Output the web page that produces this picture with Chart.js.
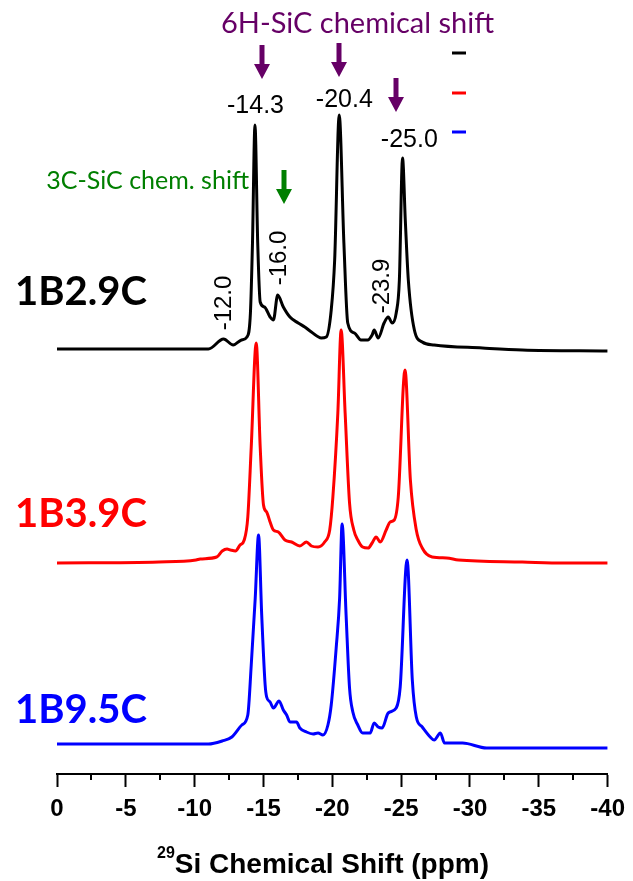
<!DOCTYPE html>
<html>
<head>
<meta charset="utf-8">
<title>29Si NMR spectra</title>
<script src="https://cdn.jsdelivr.net/npm/chart.js@4/dist/chart.umd.min.js"></script>
<style>
  html, body { margin: 0; padding: 0; background: #fff; }
  #wrap { width: 633px; height: 881px; }
</style>
</head>
<body>
<div id="wrap"><canvas id="nmrChart" width="633" height="881"></canvas></div>
<script>
// ================= DATA =================
// chemical shift (ppm) and intensity above each trace's own baseline
const blackShift = [0, -7.4, -11.0, -12.1, -12.8, -13.4, -13.8, -14.05, -14.2, -14.38, -14.58, -14.76, -15.07, -15.48, -15.72, -16.03, -16.44, -16.92, -17.52, -18.0, -18.48, -19.2, -19.56, -19.92, -20.17, -20.5, -20.84, -21.12, -21.61, -22.08, -22.57, -22.89, -23.04, -23.33, -23.76, -24.06, -24.35, -24.64, -24.87, -25.1, -25.3, -25.52, -25.96, -26.53, -27.4, -30.9, -33.8, -40];
const blackInt = [0, 0, 0, 10, 4, 9, 12, 36, 106, 224, 106, 47, 42, 32, 29, 54, 42, 32, 26, 22, 17, 11, 12, 39, 89, 234, 106, 26, 16, 9, 9, 14, 19, 11, 26, 32, 26, 36, 69, 191, 129, 69, 19, 7, 4, 1, -1, -2];

const redShift = [0, -7.4, -10.1, -10.4, -11.6, -12.0, -12.35, -12.6, -12.96, -13.3, -13.6, -13.86, -14.11, -14.47, -14.76, -15.0, -15.23, -15.48, -15.72, -16.08, -16.56, -17.04, -17.64, -18.12, -18.48, -18.96, -19.44, -19.81, -20.04, -20.4, -20.64, -20.93, -21.25, -21.56, -21.85, -22.2, -22.6, -22.89, -23.18, -23.48, -23.91, -24.2, -24.5, -24.79, -25.28, -25.67, -26.1, -26.53, -27.25, -28.3, -29.16, -33.8, -36.8, -40];
const redInt = [-1, 0, 2, 3, 5, 11, 13, 12, 11, 17, 22, 45, 115, 219, 115, 57, 50, 40, 32, 30, 22, 20, 16, 20, 16, 15, 20, 32, 65, 149, 232, 149, 59, 32, 22, 15, 14, 19, 25, 20, 32, 40, 42, 65, 192, 82, 32, 14, 5, 4, 2, 0, -1, -1];

const blueShift = [0, -7.4, -11.0, -12.0, -12.7, -13.43, -13.86, -14.11, -14.4, -14.64, -14.87, -15.12, -15.23, -15.48, -15.72, -16.13, -16.44, -16.68, -16.92, -17.4, -17.64, -18.12, -18.6, -18.96, -19.32, -19.68, -19.92, -20.28, -20.53, -20.71, -21.0, -21.25, -21.49, -21.85, -22.2, -22.75, -23.04, -23.33, -23.62, -24.06, -24.64, -24.93, -25.43, -25.81, -26.1, -26.53, -27.11, -27.4, -27.85, -28.15, -29.46, -31.2, -33.8, -40];
const blueInt = [0, 0, 0, 3, 7, 19, 29, 79, 146, 209, 129, 59, 47, 42, 36, 43, 34, 29, 22, 22, 16, 12, 10, 11, 9, 19, 39, 96, 146, 220, 129, 56, 32, 19, 11, 11, 21, 17, 16, 31, 36, 57, 184, 64, 27, 17, 7, 4, 11, 1, 1, -4, -4, -4];

const sampleNames = ["1B2.9C", "1B3.9C", "1B9.5C"];
const tickValues = [0, -5, -10, -15, -20, -25, -30, -35, -40];
const peakLabels6H = ["-14.3", "-20.4", "-25.0"];
const minorLabels = ["-12.0", "-16.0", "-23.9"];

// ================= LAYOUT / STYLE =================
const colors = ["#000000", "#ff0000", "#0000ff"];
const offsets = [425, 212, 30];   // vertical stacking of the traces
const purple = "#660066";
const green = "#007f00";

function makeSeries(shift, inten, off) {
  return shift.map((s, i) => ({ x: s, y: inten[i] + off }));
}

// ================= ANNOTATIONS =================
function arrow(ctx, x, y1, y2, color) {
  const head = 15, half = 8;
  ctx.save();
  ctx.strokeStyle = color;
  ctx.fillStyle = color;
  ctx.lineWidth = 5;
  ctx.beginPath();
  ctx.moveTo(x, y1);
  ctx.lineTo(x, y2 - head + 1);
  ctx.stroke();
  ctx.beginPath();
  ctx.moveTo(x - half, y2 - head);
  ctx.lineTo(x + half, y2 - head);
  ctx.lineTo(x, y2);
  ctx.closePath();
  ctx.fill();
  ctx.restore();
}

const annotations = {
  id: "annotations",
  afterDraw(chart) {
    const ctx = chart.ctx;
    const xs = chart.scales.x;
    const axisY = chart.chartArea.bottom;

    // minor ticks
    ctx.save();
    ctx.strokeStyle = "#000";
    ctx.lineWidth = 2;
    for (let v = -2.5; v > -40; v -= 5) {
      const px = Math.round(xs.getPixelForValue(v));
      ctx.beginPath();
      ctx.moveTo(px, axisY);
      ctx.lineTo(px, axisY + 6);
      ctx.stroke();
    }
    ctx.restore();

    // axis title with superscript
    ctx.save();
    ctx.fillStyle = "#000";
    ctx.textBaseline = "alphabetic";
    ctx.textAlign = "left";
    ctx.font = "bold 16px 'Liberation Sans', Arial";
    ctx.fillText("29", 157, 858);
    const supW = ctx.measureText("29").width;
    ctx.font = "bold 28px 'Liberation Sans', Arial";
    ctx.fillText("Si Chemical Shift (ppm)", 157 + supW, 873);
    ctx.restore();

    // sample names
    ctx.save();
    ctx.font = "bold 40px Lato";
    ctx.textAlign = "left";
    const nameY = [305, 527, 723];
    sampleNames.forEach((n, i) => {
      ctx.fillStyle = colors[i];
      ctx.fillText(n, 15, nameY[i]);
    });
    ctx.restore();

    // legend dashes
    ctx.save();
    ctx.lineWidth = 3;
    [53, 93, 132].forEach((y, i) => {
      ctx.strokeStyle = colors[i];
      ctx.beginPath();
      ctx.moveTo(452, y);
      ctx.lineTo(466, y);
      ctx.stroke();
    });
    ctx.restore();

    // 6H-SiC
    ctx.save();
    ctx.fillStyle = purple;
    ctx.font = "29px Lato";
    ctx.textAlign = "left";
    ctx.fillText("6H-SiC chemical shift", 221, 33);
    ctx.restore();
    arrow(ctx, 262, 45, 79, purple);
    arrow(ctx, 339, 43, 77, purple);
    arrow(ctx, 396, 78, 112, purple);

    ctx.save();
    ctx.fillStyle = "#000";
    ctx.font = "25px 'Liberation Sans', Arial";
    ctx.textAlign = "center";
    ctx.fillText(peakLabels6H[0], 255.5, 113);
    ctx.fillText(peakLabels6H[1], 344.3, 107);
    ctx.fillText(peakLabels6H[2], 409.3, 147);
    ctx.restore();

    // 3C-SiC
    ctx.save();
    ctx.fillStyle = green;
    ctx.font = "25px Lato";
    ctx.textAlign = "right";
    ctx.fillText("3C-SiC chem. shift", 249, 189);
    ctx.restore();
    arrow(ctx, 284, 170, 204, green);

    // rotated small peak labels
    ctx.save();
    ctx.fillStyle = "#000";
    ctx.font = "24px 'Liberation Sans', Arial";
    ctx.textAlign = "center";
    [[231, 303], [286, 258], [389, 286]].forEach((p, i) => {
      ctx.save();
      ctx.translate(p[0], p[1]);
      ctx.rotate(-Math.PI / 2);
      ctx.fillText(minorLabels[i], 0, 0);
      ctx.restore();
    });
    ctx.restore();
  }
};

// ================= CHART =================
const ctx = document.getElementById("nmrChart").getContext("2d");

const nmrChart = new Chart(ctx, {
  type: "line",
  data: {
    datasets: [
      { label: sampleNames[0], data: makeSeries(blackShift, blackInt, offsets[0]), borderColor: colors[0] },
      { label: sampleNames[1], data: makeSeries(redShift, redInt, offsets[1]), borderColor: colors[1] },
      { label: sampleNames[2], data: makeSeries(blueShift, blueInt, offsets[2]), borderColor: colors[2] }
    ]
  },
  options: {
    responsive: false,
    animation: false,
    devicePixelRatio: 1,
    layout: { padding: { left: 57, right: 20, top: 10, bottom: 0 } },
    elements: {
      point: { radius: 0 },
      line: { borderWidth: 3, fill: false, cubicInterpolationMode: "monotone" }
    },
    plugins: {
      legend: { display: false },
      tooltip: { enabled: false }
    },
    scales: {
      x: {
        type: "linear",
        min: -40,
        max: 0,
        reverse: true,
        afterFit: (scale) => { scale.height = 107; },
        afterBuildTicks: (scale) => { scale.ticks = tickValues.map(v => ({ value: v })); },
        border: { display: true, color: "#000", width: 2 },
        grid: { drawOnChartArea: false, drawTicks: true, tickLength: 13, tickColor: "#000", tickWidth: 2 },
        ticks: {
          color: "#000",
          padding: 8,
          maxRotation: 0,
          font: { family: "'Liberation Sans', Arial", size: 24, weight: "bold" },
          callback: (v) => String(v)
        }
      },
      y: {
        display: false,
        min: 0,
        max: 764
      }
    }
  },
  plugins: [annotations]
});
</script>
</body>
</html>
